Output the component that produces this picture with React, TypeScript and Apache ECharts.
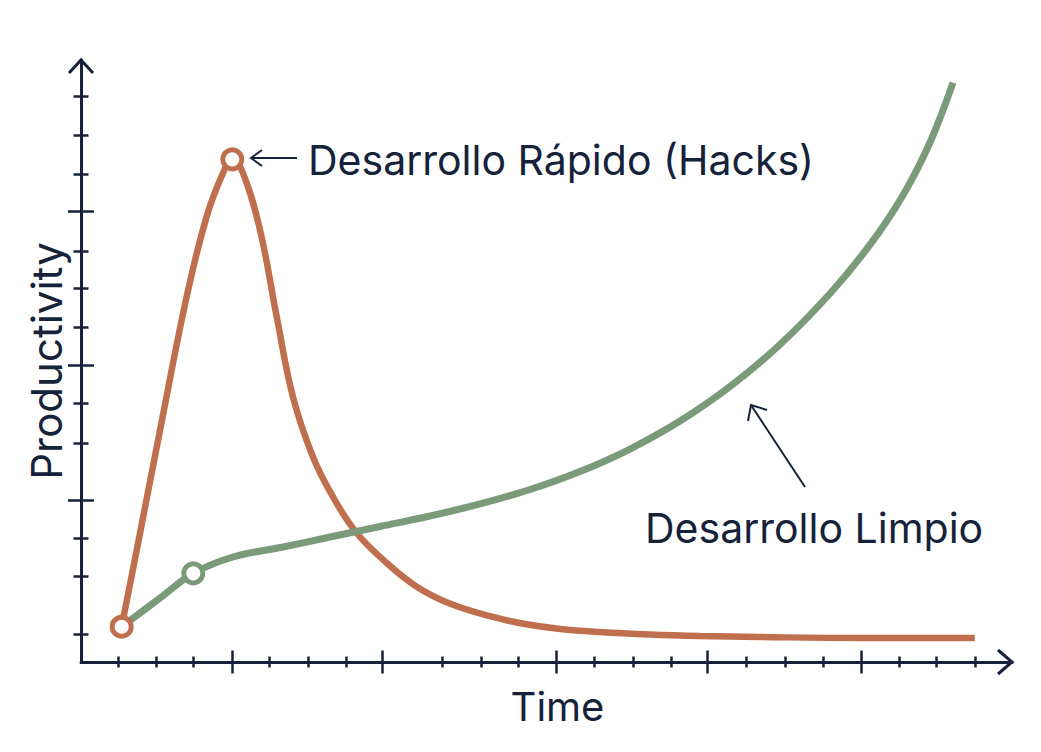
import { useEffect, useRef } from 'react'
import * as echarts from 'echarts'

const NAVY = '#16213a'
const ORANGE = '#c06f4e'
const GREEN = '#7b9a79'
const FONT = 'Inter, "Noto Sans", sans-serif'

// [time, productivity] on a 0–100 scale for both axes
const RAPIDO: [number, number][] = [
  [4.37, 5.86], [6.34, 21.4], [8.49, 38.5], [11.35, 60.7], [13.5, 74.0], [15.25, 81.2],
  [16.25, 83.5], [17.4, 81.2], [19.23, 71.76], [21.02, 57.36], [22.77, 44.02], [24.92, 34.05],
  [27.07, 27.41], [29.61, 21.43], [32.84, 16.45], [36.06, 12.51], [39.6, 9.72], [44.25, 7.48],
  [47.7, 6.31], [51.5, 5.48], [55.7, 4.98], [61.1, 4.57], [66.5, 4.32], [72.9, 4.15],
  [83.7, 3.99], [96.0, 3.99],
]
const LIMPIO: [number, number][] = [
  [4.37, 5.86], [8.49, 10.63], [12.06, 14.73], [16.33, 17.44], [21.7, 19.1], [26.75, 20.76],
  [32.12, 22.51], [37.49, 24.25], [42.86, 26.25], [48.23, 28.65], [53.6, 31.64], [58.97, 35.38],
  [64.34, 40.03], [69.71, 45.76], [75.08, 52.74], [80.45, 61.21], [84.75, 69.32], [88.29, 77.54],
  [91.19, 86.3], [93.66, 96.23],
]
// indices of the points drawn as hollow circles
const RAPIDO_MARKERS = [0, 6]
const LIMPIO_MARKERS = [2]

const X_MAJOR = [16.2, 32.4, 51.1, 67.3, 83.8]
const X_MINOR = [3.97, 8.06, 12.1, 20.2, 24.4, 28.5, 38.8, 43.0, 47.0, 55.1, 59.3, 63.4, 71.5, 75.6, 79.7, 87.9, 91.9, 96.0]
const Y_MAJOR = [26.9, 49.3, 74.9]
const Y_MINOR = [4.65, 14.3, 20.6, 36.4, 42.9, 55.6, 62.1, 68.3, 81.1, 87.5, 93.9]

const X_NAME = 'Time'
const Y_NAME = 'Productivity'
const RAPIDO_LABEL = 'Desarrollo Rápido (Hacks)'
const LIMPIO_LABEL = 'Desarrollo Limpio'

// an invisible axis that only draws ticks crossing the real axis line
const tickAxis = (position: 'bottom' | 'left', values: number[], len: number) => ({
  type: 'value' as const,
  position,
  min: 0,
  max: 100,
  offset: len / 2,
  axisLine: { show: false, onZero: false },
  axisLabel: { show: false },
  splitLine: { show: false },
  axisTick: { show: true, inside: true, customValues: values, length: len, lineStyle: { color: NAVY, width: 2.5 } },
})

export default function App() {
  const ref = useRef<HTMLDivElement>(null)

  useEffect(() => {
    if (!ref.current) {
      return
    }
    const chart = echarts.init(ref.current, undefined, { renderer: 'svg' })
    const markerStyle = (color: string) => ({ color: '#fff', borderColor: color, borderWidth: 5, opacity: 1 })

    chart.setOption({
      animation: false,
      backgroundColor: '#fff',
      grid: { left: 81, right: 29, top: 60, bottom: 90 },
      xAxis: [
        {
          type: 'value', position: 'bottom', min: 0, max: 100,
          axisLine: { show: true, lineStyle: { color: NAVY, width: 3 } },
          axisTick: { show: false }, axisLabel: { show: false }, splitLine: { show: false },
          name: X_NAME, nameLocation: 'middle', nameGap: 24,
          nameTextStyle: { fontFamily: FONT, fontSize: 40, color: NAVY, padding: [0, 0, 0, 22] },
        },
        tickAxis('bottom', X_MAJOR, 23),
        tickAxis('bottom', X_MINOR, 11),
      ],
      yAxis: [
        {
          type: 'value', position: 'left', min: 0, max: 100,
          axisLine: { show: true, lineStyle: { color: NAVY, width: 3 } },
          axisTick: { show: false }, axisLabel: { show: false }, splitLine: { show: false },
          name: Y_NAME, nameLocation: 'middle', nameGap: 14,
          nameTextStyle: { fontFamily: FONT, fontSize: 42, color: NAVY },
        },
        tickAxis('left', Y_MAJOR, 26),
        tickAxis('left', Y_MINOR, 15),
      ],
      series: [
        {
          type: 'line', data: RAPIDO, smooth: 0.4, showSymbol: false,
          lineStyle: { color: ORANGE, width: 6.5 }, z: 2,
        },
        {
          type: 'line', data: LIMPIO, smooth: 0.4, showSymbol: false,
          lineStyle: { color: GREEN, width: 7 }, z: 3,
        },
        {
          type: 'scatter', data: LIMPIO_MARKERS.map((i) => LIMPIO[i]), symbolSize: 19,
          itemStyle: markerStyle(GREEN), z: 4,
        },
        {
          type: 'scatter', data: RAPIDO_MARKERS.map((i) => RAPIDO[i]), symbolSize: 19,
          itemStyle: markerStyle(ORANGE), z: 5,
        },
      ],
    })

    const px = (p: number[]) => chart.convertToPixel({ xAxisIndex: 0, yAxisIndex: 0 }, p) as number[]
    const [ox, oy] = px([0, 0])
    const [, top] = px([0, 100])
    const [right] = px([100, 0])
    const thin = { stroke: NAVY, lineWidth: 2, fill: 'none' }
    const thick = { stroke: NAVY, lineWidth: 3, fill: 'none' }

    chart.setOption({
      graphic: [
        { type: 'polyline', shape: { points: [[ox - 12, top + 13], [ox, top], [ox + 12, top + 13]] }, style: thick },
        { type: 'polyline', shape: { points: [[right - 14, oy - 12], [right, oy], [right - 14, oy + 12]] }, style: thick },
        // arrow pointing at the hacks peak
        { type: 'line', shape: { x1: 251, y1: 158, x2: 297, y2: 158 }, style: thin },
        { type: 'polyline', shape: { points: [[262, 150], [251, 158], [262, 166]] }, style: thin },
        {
          type: 'text', x: 308, y: 160,
          style: { text: RAPIDO_LABEL, font: `41px ${FONT}`, fill: NAVY, verticalAlign: 'middle' },
        },
        // arrow pointing at the clean curve
        { type: 'line', shape: { x1: 805, y1: 487, x2: 751, y2: 405 }, style: thin },
        { type: 'polyline', shape: { points: [[748, 421], [751, 405], [767, 410]] }, style: thin },
        {
          type: 'text', x: 645, y: 528,
          style: { text: LIMPIO_LABEL, font: `41px ${FONT}`, fill: NAVY, verticalAlign: 'middle' },
        },
      ],
    })

    return () => {
      chart.dispose()
    }
  }, [])

  return <div ref={ref} style={{ position: 'fixed', left: 0, top: 0, width: 1041, height: 752 }} />
}
